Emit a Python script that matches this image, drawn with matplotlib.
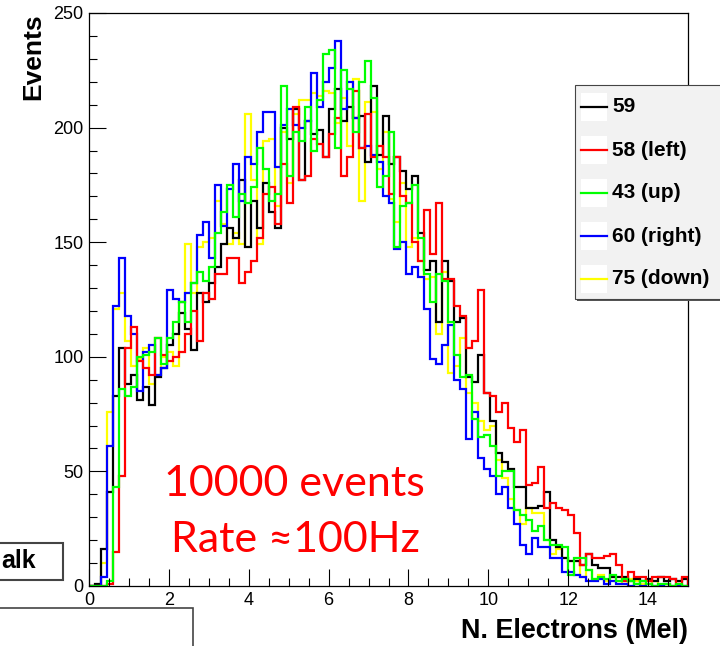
import numpy as np
import matplotlib
matplotlib.use("Agg")
import matplotlib.pyplot as plt
from matplotlib.ticker import MultipleLocator
from matplotlib.patches import Rectangle
from matplotlib.lines import Line2D

W, H = 720, 646

# 100 bins of 0.15 Mel between 0 and 15
x_min, x_max, n_bins = 0.0, 15.0, 100

counts_59 = [0, 1, 16, 41, 83, 104, 88, 92, 81, 87, 79, 91, 95, 105, 110, 119, 112, 103, 128, 124,
             132, 139, 149, 156, 152, 177, 148, 168, 156, 176, 163, 156, 200, 195, 208, 177, 203, 197, 199, 187,
             208, 217, 203, 209, 204, 205, 185, 218, 188, 205, 184, 187, 181, 173, 179, 154, 138, 142, 115, 142,
             133, 115, 117, 91, 89, 101, 84, 72, 58, 54, 51, 43, 43, 34, 34, 35, 41, 20, 17, 12,
             11, 11, 9, 14, 9, 8, 8, 4, 4, 4, 2, 3, 2, 3, 2, 4, 2, 3, 2, 3]
counts_58 = [0, 0, 0, 1, 15, 48, 104, 113, 98, 95, 92, 108, 101, 98, 100, 102, 110, 120, 107, 128,
             125, 136, 136, 143, 143, 132, 137, 142, 152, 171, 174, 158, 184, 167, 209, 177, 179, 195, 193, 187,
             197, 204, 179, 187, 216, 191, 206, 187, 192, 187, 171, 187, 170, 167, 150, 142, 164, 145, 167, 134,
             134, 122, 118, 104, 107, 129, 84, 83, 76, 80, 69, 63, 68, 44, 45, 52, 34, 36, 34, 33,
             31, 23, 9, 14, 12, 12, 13, 14, 9, 2, 6, 4, 4, 2, 4, 4, 4, 3, 1, 4]
counts_43 = [0, 0, 0, 2, 43, 86, 83, 87, 100, 101, 102, 108, 97, 108, 115, 124, 115, 132, 137, 133,
             139, 154, 163, 175, 161, 171, 167, 174, 191, 182, 168, 171, 218, 179, 198, 194, 209, 190, 212, 232,
             234, 191, 225, 217, 198, 220, 229, 213, 174, 179, 198, 148, 166, 167, 175, 152, 136, 124, 136, 133,
             115, 101, 91, 92, 73, 65, 66, 61, 48, 50, 50, 33, 31, 29, 24, 26, 20, 18, 18, 17,
             5, 12, 12, 7, 3, 4, 3, 5, 2, 3, 2, 1, 2, 1, 0, 1, 1, 0, 1, 0]
counts_60 = [0, 0, 4, 61, 122, 143, 118, 110, 85, 102, 105, 92, 95, 129, 125, 124, 128, 132, 153, 159,
             143, 175, 157, 173, 184, 168, 187, 184, 198, 207, 207, 183, 201, 208, 201, 200, 203, 224, 209, 220,
             226, 238, 208, 220, 204, 191, 192, 188, 185, 170, 167, 147, 150, 136, 139, 135, 121, 99, 97, 105,
             114, 90, 86, 64, 76, 56, 51, 48, 40, 43, 34, 27, 18, 14, 21, 17, 17, 12, 12, 6,
             6, 5, 4, 2, 2, 3, 1, 2, 1, 1, 0, 1, 0, 1, 0, 0, 1, 0, 0, 0]
counts_75 = [0, 0, 10, 76, 121, 128, 107, 96, 99, 104, 88, 92, 100, 102, 96, 124, 149, 128, 148, 150,
             152, 168, 158, 149, 154, 149, 206, 177, 149, 194, 195, 166, 198, 176, 206, 212, 212, 215, 214, 216,
             215, 202, 213, 192, 221, 168, 211, 207, 182, 198, 169, 159, 176, 148, 152, 142, 134, 135, 110, 137,
             93, 96, 108, 84, 80, 72, 68, 70, 55, 47, 38, 33, 27, 34, 32, 32, 20, 14, 16, 12,
             11, 11, 4, 7, 3, 5, 2, 4, 2, 1, 3, 2, 1, 1, 2, 0, 1, 0, 1, 0]

labels = ["59", "58 (left)", "43 (up)", "60 (right)", "75 (down)"]
colors = ["#000000", "#ff0000", "#00ff00", "#0000ff", "#ffff00"]
series = [counts_59, counts_58, counts_43, counts_60, counts_75]
draw_order = [4, 0, 3, 1, 2]

plt.rcParams["font.family"] = ["Liberation Sans", "DejaVu Sans"]


def fx(px):
    return px / W


def fy(py):
    return 1 - py / H


fig = plt.figure(figsize=(W / 100, H / 100), dpi=100)
ax = fig.add_axes([fx(89), fy(586), fx(688) - fx(89), fy(13) - fy(586)])

edges = np.linspace(x_min, x_max, n_bins + 1)
for i in draw_order:
    ax.stairs(series[i], edges, color=colors[i], lw=1.6, baseline=0)

ax.set_xlim(x_min, x_max)
ax.set_ylim(0, 250)
ax.xaxis.set_major_locator(MultipleLocator(2))
ax.xaxis.set_minor_locator(MultipleLocator(0.5))
ax.yaxis.set_major_locator(MultipleLocator(50))
ax.yaxis.set_minor_locator(MultipleLocator(10))
ax.tick_params(which="both", direction="in", top=False, right=False, width=0.8, labelsize=13)
ax.tick_params(which="major", length=12)
ax.tick_params(which="minor", length=6)
ax.tick_params(axis="x", pad=4)
ax.tick_params(axis="y", pad=4)
for s in ax.spines.values():
    s.set_linewidth(0.9)

fig.text(fx(33), fy(13), "Events", rotation=90, ha="center", va="top",
         fontsize=19, fontweight="bold")
fig.text(fx(688), fy(638), "N. Electrons (Mel)", ha="right", va="baseline",
         fontsize=19.4, fontweight="bold")

# legend box, partly running off the right edge
fig.add_artist(Rectangle((fx(577), fy(301)), fx(760) - fx(577), fy(86) - fy(301),
                         transform=fig.transFigure, facecolor="#555555", edgecolor="none", zorder=5))
fig.add_artist(Rectangle((fx(575), fy(299)), fx(760) - fx(575), fy(85) - fy(299),
                         transform=fig.transFigure, facecolor="#f2f2f2", edgecolor="#444444",
                         lw=0.8, zorder=6))
for k, (lab, col) in enumerate(zip(labels, colors)):
    yc = 107 + 43 * k
    fig.add_artist(Rectangle((fx(581), fy(yc + 14)), fx(607) - fx(581), fy(yc - 14) - fy(yc + 14),
                             transform=fig.transFigure, facecolor="white", edgecolor="none", zorder=7))
    fig.add_artist(Line2D([fx(581), fx(607)], [fy(yc), fy(yc)], transform=fig.transFigure,
                          color=col, lw=1.6, zorder=8))
    fig.text(fx(612), fy(yc), lab, ha="left", va="center", fontsize=15,
             fontweight="bold", zorder=9)

# leftover boxes at the lower left
fig.add_artist(Rectangle((fx(-10), fy(580)), fx(63) - fx(-10), fy(543) - fy(580),
                         transform=fig.transFigure, facecolor="white", edgecolor="#444444",
                         lw=1.5, zorder=6))
fig.text(fx(36), fy(568), "alk", ha="right", va="baseline", fontsize=18,
         fontweight="bold", zorder=7)
fig.add_artist(Rectangle((fx(-10), fy(660)), fx(193) - fx(-10), fy(608) - fy(660),
                         transform=fig.transFigure, facecolor="white", edgecolor="#444444",
                         lw=1.2, zorder=6))

fig.text(fx(294), fy(484), "10000 events", ha="center", va="center", color="#ff0000",
         fontsize=31, family=["Lato", "DejaVu Sans"])
fig.text(fx(295), fy(540), "Rate \u2248100Hz", ha="center", va="center", color="#ff0000",
         fontsize=31, family=["Lato", "DejaVu Sans"])

fig.savefig("out.png", dpi=100)
